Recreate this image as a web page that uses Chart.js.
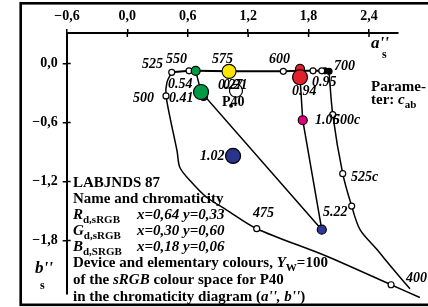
<!DOCTYPE html>
<html>
<head>
<meta charset="utf-8">
<script src="https://cdn.jsdelivr.net/npm/chart.js@4.4.1/dist/chart.umd.min.js"></script>
<style>
  html, body { margin: 0; padding: 0; background: #fff; }
  canvas { display: block; }
</style>
</head>
<body>
<canvas id="myChart" width="428" height="307"></canvas>
<script>
const xTicks = [-0.6, 0, 0.6, 1.2, 1.8, 2.4];
const yTicks = [0, -0.6, -1.2, -1.8];

// spectral locus: top edge 525 .. 700 nm
const topEdgeA = [0.441, 0.613, 0.679, 1.010, 1.549, 1.715, 1.844, 1.931, 1.963, 2.003];
const topEdgeB = [-0.09, -0.075, -0.075, -0.08, -0.08, -0.075, -0.075, -0.075, -0.075, -0.08];
// complementary side 500c .. 525c .. 400
const rightEdgeA = [2.003, 2.040, 2.139, 2.228, 2.311, 2.477, 2.639, 2.807, 2.905];
const rightEdgeB = [-0.08, -0.52, -1.12, -1.45, -1.69, -1.89, -2.09, -2.29, -2.38];
// 400 .. 475 .. 500 .. 525
const leftEdgeA = [2.905, 2.619, 1.980, 1.285, 0.987, 0.788, 0.640, 0.523, 0.494, 0.384, 0.394, 0.441];
const leftEdgeB = [-2.38, -2.25, -1.96, -1.68, -1.49, -1.36, -1.21, -1.06, -0.89, -0.33, -0.19, -0.09];

// small open marks on the locus
const openA = [0.441, 0.613, 1.549, 1.844, 1.931, 0.384, 1.285, 2.619, 2.040, 2.139, 2.228, 2.867, 2.905];
const openB = [-0.09, -0.075, -0.08, -0.075, -0.075, -0.33, -1.68, -2.25, -0.52, -1.12, -1.45, -2.36, -2.38];
const blackA = [1.963, 2.003];
const blackB = [-0.075, -0.08];

// elementary colours (on locus) and device colours
const greenLineA = [0.679, 0.732, 1.931];
const greenLineB = [-0.075, -0.29, -1.69];
const redLineA = [1.715, 1.742, 1.931];
const redLineB = [-0.14, -0.577, -1.69];

const elemGreen = [0.679, -0.075];
const elemRed = [1.715, -0.055];
const elemYellow = [1.010, -0.08];
const devRed = [1.715, -0.14];
const devGreen = [0.732, -0.29];
const devGreenBack = [0.757, -0.335];
const devNavy = [1.050, -0.94];
const devPink = [1.742, -0.577];
const devBlue = [1.931, -1.69];
const whiteP40 = [1.079, -0.277];
const dotP40 = [1.030, -0.43];

// annotation texts [text, a, b]
const notes = [
  ["525", 0.146, -0.01], ["550", 0.384, 0.04], ["575", 0.841, 0.04],
  ["600", 1.407, 0.04], ["700", 2.053, -0.03], ["500", 0.057, -0.36],
  ["0.54", 0.404, -0.21], ["0.41", 0.414, -0.35], ["0.27", 0.901, -0.22],
  ["0.21", 0.950, -0.22], ["0.95", 1.834, -0.19], ["0.94", 1.635, -0.28],
  ["1.06", 1.864, -0.58], ["500c", 2.043, -0.58], ["525c", 2.222, -1.16],
  ["5.22", 1.943, -1.51], ["1.02", 0.722, -0.94], ["475", 1.248, -1.52],
  ["400", 2.768, -2.19]
];

const SERIF = "'Liberation Serif', 'DejaVu Serif', serif";
const pts = (a, b) => a.map((v, i) => ({ x: v, y: b[i] }));
const one = (p) => [{ x: p[0], y: p[1] }];

const lineDs = (a, b, w, t) => ({
  data: pts(a, b), showLine: true, borderColor: "#000", borderWidth: w,
  pointRadius: 0, tension: t, fill: false, clip: false, order: 10
});
const dotDs = (data, r, fill, order) => ({
  data, showLine: false, pointRadius: r, pointBackgroundColor: fill,
  pointBorderColor: "#000", pointBorderWidth: 1.2, clip: false, order
});

const fmt = (v) => (v < 0 ? "\u2212" : "") + Math.abs(v).toFixed(1).replace(".", ",");

function rich(ctx, x, y, parts) {
  for (const [t, font, dy] of parts) {
    ctx.font = font;
    ctx.fillText(t, x, y + (dy || 0));
    x += ctx.measureText(t).width;
  }
  return x;
}

const decor = {
  id: "decor",
  afterDraw(chart) {
    const { ctx, chartArea, scales } = chart;
    const sx = scales.x, sy = scales.y;
    ctx.save();
    ctx.strokeStyle = "#000";
    ctx.lineWidth = 1.5;
    ctx.beginPath();
    xTicks.forEach((v) => {
      const p = sx.getPixelForValue(v);
      ctx.moveTo(p, chartArea.top); ctx.lineTo(p, chartArea.top + 4);
    });
    yTicks.forEach((v) => {
      const p = sy.getPixelForValue(v);
      ctx.moveTo(chartArea.left, p); ctx.lineTo(chartArea.left + 4, p);
    });
    ctx.stroke();

    ctx.fillStyle = "#000";
    ctx.textAlign = "left";
    ctx.textBaseline = "middle";
    ctx.font = "italic bold 14px " + SERIF;
    notes.forEach(([t, a, b]) => {
      ctx.fillText(t, sx.getPixelForValue(a), sy.getPixelForValue(b));
    });
    ctx.font = "bold 14px " + SERIF;
    ctx.fillText("P40", sx.getPixelForValue(0.940), sy.getPixelForValue(-0.40));

    ctx.textBaseline = "alphabetic";
    const B = "bold 15px " + SERIF;
    const BI = "italic bold 15px " + SERIF;
    const S = "bold 11px " + SERIF;
    const L = 73;
    rich(ctx, L, 187, [["LABJNDS 87", B]]);
    rich(ctx, L, 203, [["Name and chromaticity", B]]);
    const rows = [["R", "d,sRGB", "x=0,64", "y=0,33"], ["G", "d,sRGB", "x=0,30", "y=0,60"], ["B", "d,SRGB", "x=0,18", "y=0,06"]];
    rows.forEach((r, i) => {
      const yy = 219 + i * 16;
      rich(ctx, L, yy, [[r[0], BI], [r[1], S, 4]]);
      rich(ctx, 137, yy, [[r[2], BI]]);
      rich(ctx, 183, yy, [[r[3], BI]]);
    });
    rich(ctx, L, 267, [["Device and elementary colours, ", B], ["Y", BI], ["W", S, 4], ["=100", B]]);
    rich(ctx, L, 284, [["of the ", B], ["sRGB", BI], [" colour space for P40", B]]);
    rich(ctx, L, 301, [["in the chromaticity diagram (", B], ["a'', b''", BI], [")", B]]);

    rich(ctx, 371, 91, [["Parame-", B]]);
    rich(ctx, 371, 104, [["ter: ", B], ["c", BI], ["ab", S, 4]]);

    rich(ctx, 371, 48, [["a''", "italic bold 17px " + SERIF]]);
    rich(ctx, 382, 58, [["s", "bold 12px " + SERIF]]);
    rich(ctx, 35, 273, [["b''", "italic bold 17px " + SERIF]]);
    rich(ctx, 40, 289, [["s", "bold 12px " + SERIF]]);

    ctx.lineWidth = 2.6;
    ctx.strokeRect(20.7, 3.3, 430, 301.5);
    ctx.restore();
  }
};

const ctx = document.getElementById("myChart").getContext("2d");
new Chart(ctx, {
  type: "scatter",
  data: {
    datasets: [
      lineDs(topEdgeA, topEdgeB, 2, 0),
      lineDs(rightEdgeA, rightEdgeB, 1.5, 0.3),
      lineDs(leftEdgeA, leftEdgeB, 1.5, 0.3),
      lineDs(greenLineA, greenLineB, 1.5, 0),
      lineDs(redLineA, redLineB, 1.5, 0),
      dotDs(pts(openA, openB), 3, "#fff", 5),
      dotDs(pts(blackA, blackB), 3, "#000", 5),
      dotDs(one(elemGreen), 4.5, "#009a45", 4),
      dotDs(one(elemRed), 4.5, "#e2202b", 4),
      dotDs(one(devGreenBack), 4, "#28358a", 4),
      dotDs(one(whiteP40), 6.5, "rgba(255,255,255,0)", 3),
      dotDs(one(dotP40), 1.3, "#000", 3),
      dotDs(one(devPink), 4.5, "#e0007b", 3),
      dotDs(one(devBlue), 4.5, "#2b3a96", 3),
      dotDs(one(elemYellow), 7, "#ffe500", 2),
      dotDs(one(devRed), 7.5, "#e2202b", 2),
      dotDs(one(devGreen), 7.5, "#009a45", 2),
      dotDs(one(devNavy), 7.5, "#28358a", 2)
    ]
  },
  options: {
    responsive: false,
    animation: false,
    events: [],
    layout: { padding: { left: 0, top: 0, right: 30, bottom: 9 } },
    plugins: { legend: { display: false }, tooltip: { enabled: false } },
    scales: {
      x: {
        type: "linear",
        position: "top",
        min: -0.602,
        max: 2.688,
        afterBuildTicks: (s) => { s.ticks = xTicks.map((v) => ({ value: v })); },
        afterFit: (s) => { s.height = 33; },
        ticks: { color: "#000", padding: 4, maxRotation: 0, font: { family: SERIF, size: 14, weight: "bold" }, callback: fmt },
        grid: { drawOnChartArea: false, drawTicks: true, tickLength: 4, color: "#000", lineWidth: 1.5 },
        border: { display: true, color: "#000", width: 2 }
      },
      y: {
        type: "linear",
        position: "left",
        min: -2.34,
        max: 0.31,
        afterBuildTicks: (s) => { s.ticks = yTicks.map((v) => ({ value: v })); },
        afterFit: (s) => { s.width = 66.7; },
        ticks: { color: "#000", padding: 5, font: { family: SERIF, size: 14, weight: "bold" }, callback: fmt },
        grid: { drawOnChartArea: false, drawTicks: true, tickLength: 4, color: "#000", lineWidth: 1.5 },
        border: { display: true, color: "#000", width: 2 }
      }
    }
  },
  plugins: [decor]
});
</script>
</body>
</html>
